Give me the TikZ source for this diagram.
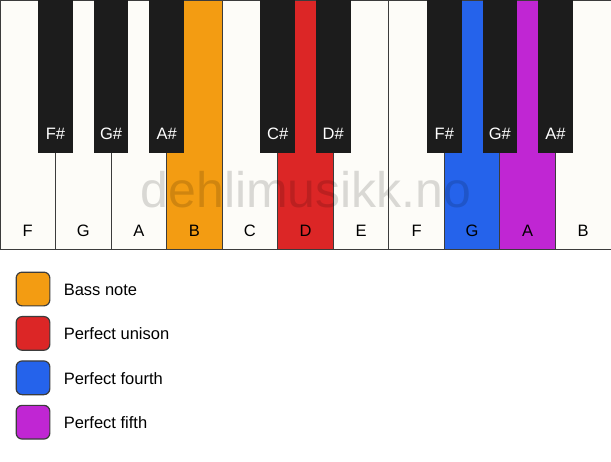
\documentclass[tikz,border=0pt]{standalone}
\usepackage{fontspec}
\setmainfont{Liberation Sans}
\definecolor{keywhite}{HTML}{FDFCF8}
\definecolor{keyblack}{HTML}{1C1C1C}
\definecolor{keyline}{HTML}{3C3C3C}
\definecolor{bassorange}{HTML}{F39C12}
\definecolor{unisonred}{HTML}{DC2626}
\definecolor{fourthblue}{HTML}{2563EB}
\definecolor{fifthpurple}{HTML}{C026D3}
\tikzset{
    whitekey/.style={draw=keyline,line width=1pt,fill=#1,minimum width=55.545pt,
        minimum height=249pt,inner sep=0pt,outer sep=0pt,anchor=north west},
    whitekey/.default=keywhite,
    blackkey/.style={fill=keyblack,minimum width=34.5pt,minimum height=153pt,
        inner sep=0pt,outer sep=0pt,anchor=north},
    keylabel/.style={inner sep=0pt,anchor=base,font=\fontsize{16.5}{19}\selectfont},
    swatch/.style={draw=keyline,line width=1.2pt,fill=#1,rounded corners=6pt,
        minimum size=33.7pt,inner sep=0pt,outer sep=0pt},
    legendtext/.style={inner sep=0pt,anchor=base west,text=black,
        font=\fontsize{16.5}{19}\selectfont},
    watermark/.style={inner sep=0pt,anchor=base,text=black,text opacity=0.14,
        font=\fontsize{50}{60}\selectfont}
}
\newcommand{\whitekey}[4][keywhite]{
    \node[whitekey=#1] (#2) at (#3,0) {};
    \node[keylabel] (#2l) at ([yshift=13]#2.south) {#4};
}
\newcommand{\blackkey}[3]{
    \node[blackkey] (#1) at (#2) {};
    \node[keylabel,text=white] (#1l) at ([yshift=14]#1.south) {#3};
}
\newcommand{\legendentry}[4]{
    \node[swatch=#3] (#1) at (33,#2) {};
    \node[legendtext] (#1t) at ([xshift=13.7,yshift=-6.5]#1.east) {#4};
}

\begin{document}
\begin{tikzpicture}[x=1pt,y=-1pt]
            \fill[white] (0,0) rectangle (611,461);
            \useasboundingbox (0,0) rectangle (611,461);
            \whitekey {F1} {0} F
            \whitekey {G1} {55.545} G
            \whitekey {A1} {111.09} A
            \whitekey[bassorange] {B1} {166.64} B
            \whitekey {C1} {222.18} C
            \whitekey[unisonred] {D1} {277.73} D
            \whitekey {E1} {333.27} E
            \whitekey {F2} {388.82} F
            \whitekey[fourthblue] {G2} {444.36} G
            \whitekey[fifthpurple] {A2} {499.91} A
            \whitekey {B2} {555.45} B
            \blackkey {Fs1} {F1.north east} {F\#}
            \blackkey {Gs1} {G1.north east} {G\#}
            \blackkey {As1} {A1.north east} {A\#}
            \blackkey {Cs1} {C1.north east} {C\#}
            \blackkey {Ds1} {D1.north east} {D\#}
            \blackkey {Fs2} {F2.north east} {F\#}
            \blackkey {Gs2} {G2.north east} {G\#}
            \blackkey {As2} {A2.north east} {A\#}
            \node[watermark] (mark) at (306,207) {dehlimusikk.no};
            \legendentry {bass} {289} {bassorange} {Bass note}
            \legendentry {unison} {333.4} {unisonred} {Perfect unison}
            \legendentry {fourth} {377.8} {fourthblue} {Perfect fourth}
            \legendentry {fifth} {422.2} {fifthpurple} {Perfect fifth}
        \end{tikzpicture}
\end{document}
